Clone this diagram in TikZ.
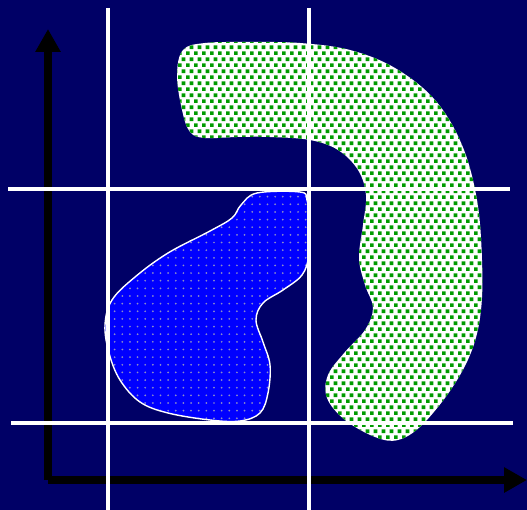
\documentclass[tikz,border=0pt]{standalone}
\usetikzlibrary{arrows.meta,patterns}

% fill patterns for the two regions
\pgfdeclarepatternformonly{greensquares}{\pgfqpoint{0pt}{0pt}}{\pgfqpoint{4.4pt}{6.8pt}}{\pgfqpoint{4.4pt}{6.8pt}}{%
    \pgfpathrectangle{\pgfqpoint{0pt}{0pt}}{\pgfqpoint{2.1pt}{2.1pt}}%
    \pgfpathrectangle{\pgfqpoint{2.2pt}{3.4pt}}{\pgfqpoint{2.1pt}{2.1pt}}%
    \pgfusepath{fill}}
\pgfdeclarepatternformonly{bluedots}{\pgfqpoint{-1pt}{-1pt}}{\pgfqpoint{1pt}{1pt}}{\pgfqpoint{4.35pt}{4.35pt}}{%
    \pgfpathcircle{\pgfqpoint{0pt}{0pt}}{0.55pt}%
    \pgfusepath{fill}}

\definecolor{navy}{RGB}{0,0,102}
\definecolor{leafgreen}{RGB}{0,155,0}
\definecolor{dotgray}{RGB}{140,140,200}

\tikzset{
    axis/.style={line width=4.5pt, -{Triangle[length=13pt, width=13.6pt]}},
    gridline/.style={white, line width=2pt},
    greenregion/.style={preaction={fill=white}, pattern=greensquares, pattern color=leafgreen},
    blueregion/.style={preaction={fill=blue}, pattern=bluedots, pattern color=dotgray, draw=white, line width=0.8pt},
}

\begin{document}
\begin{tikzpicture}[x=0.02cm, y=-0.02cm]
    % Background (pixel coordinates, y downwards)
    \fill[navy] (0, 0) rectangle (527, 510);
    \useasboundingbox (0, 0) rectangle (527, 510);

    % Axes
    \coordinate (origin) at (48, 480);
    \coordinate (ytip) at (48, 29);
    \coordinate (xtip) at (527, 480);
    \draw[axis] (origin) -- (ytip);
    \draw[axis] (origin) -- (xtip);

    % Green region (hook shape)
    \path[greenregion] plot[smooth cycle, tension=0.6] coordinates {
        (177, 75) (183, 50) (205, 43) (250, 42) (300, 43) (350, 50) (395, 68)
        (435, 100) (462, 145) (477, 200) (482, 260) (481, 310) (472, 350)
        (452, 388) (422, 425) (398, 440) (375, 437) (345, 420) (327, 398)
        (328, 375) (345, 352) (365, 330) (373, 308) (365, 285) (359, 258)
        (363, 225) (366, 195) (358, 170) (338, 150) (310, 140) (270, 137)
        (237, 137) (205, 138) (190, 132) (182, 110)};

    % Blue region
    \draw[blueregion] plot[smooth cycle, tension=0.6] coordinates {
        (241, 205) (257, 193) (300, 192) (307, 200) (310, 225) (309, 255)
        (302, 275) (283, 290) (263, 303) (256, 320) (263, 342) (270, 365)
        (268, 393) (260, 413) (240, 421) (210, 420) (168, 413) (140, 402)
        (120, 380) (109, 353) (105, 325) (112, 300) (135, 277) (168, 253)
        (210, 231) (232, 218)};

    % Grid lines
    \foreach \x in {108, 309} {
        \draw[gridline] (\x, 8) -- (\x, 510);
    }
    \draw[gridline] (8, 189) -- (510, 189);
    \draw[gridline] (11, 423) -- (513, 423);
\end{tikzpicture}
\end{document}
